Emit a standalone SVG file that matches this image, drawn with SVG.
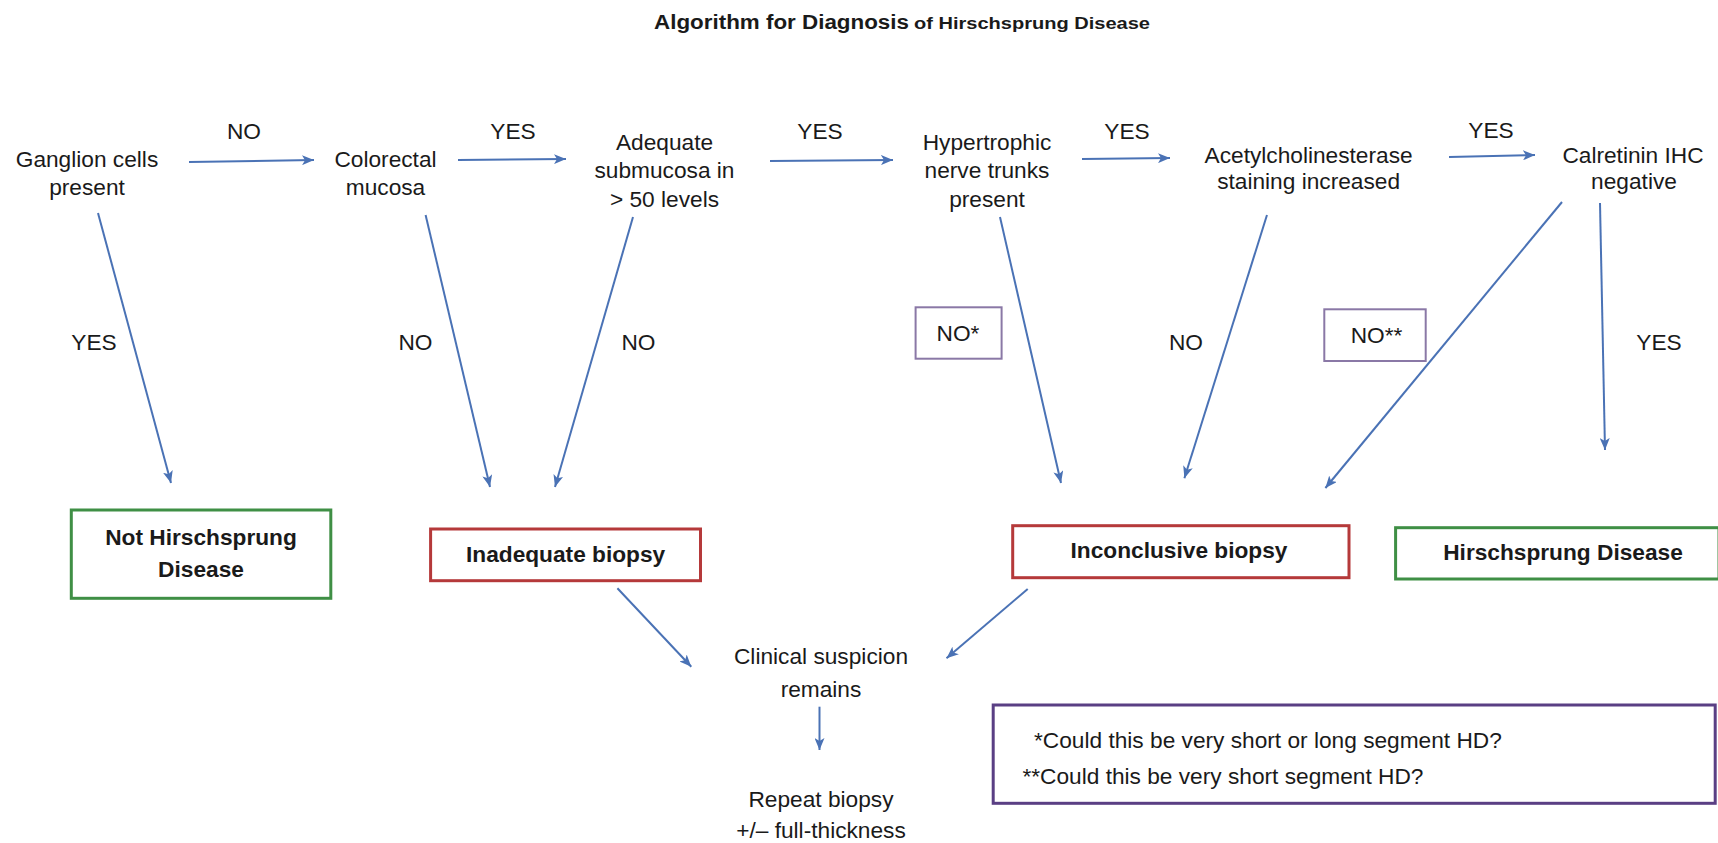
<svg xmlns="http://www.w3.org/2000/svg" width="1718" height="843" viewBox="0 0 1718 843">
<style>
text{font-family:"Liberation Sans",Arial,sans-serif;font-size:22.7px;fill:#1a1a1a;text-anchor:middle}
.b{font-weight:bold}
.c{stroke:#4a72b5;stroke-width:2;fill:none;marker-end:url(#ah)}
.g{fill:#fff;stroke:#3f8f45;stroke-width:3}
.r{fill:#fff;stroke:#b5393a;stroke-width:3}
.p{fill:#fff;stroke:#8a78a6;stroke-width:2}
.f{fill:#fff;stroke:#5a3f84;stroke-width:3}
</style>
<defs>
<marker id="ah" viewBox="0 0 12 10" refX="12" refY="5" markerWidth="12" markerHeight="10" markerUnits="userSpaceOnUse" orient="auto">
<path d="M0,0 L12,5 L0,10 L3,5 Z" fill="#4a72b5"/>
</marker>
</defs>
<rect width="1718" height="843" fill="#fff"/>
<g id="title">
<text class="b" x="654" y="29" style="text-anchor:start;font-size:20px" textLength="255" lengthAdjust="spacingAndGlyphs">Algorithm for Diagnosis</text>
<text class="b" x="914" y="29" style="text-anchor:start;font-size:17px" textLength="236" lengthAdjust="spacingAndGlyphs">of Hirschsprung Disease</text>
</g>
<g id="connectors">
<line class="c" x1="189" y1="162" x2="314" y2="160"/>
<line class="c" x1="458" y1="160" x2="566" y2="159"/>
<line class="c" x1="770" y1="161" x2="893" y2="160"/>
<line class="c" x1="1082" y1="159" x2="1170" y2="158"/>
<line class="c" x1="1449" y1="157" x2="1535" y2="155"/>
<line class="c" x1="98" y1="213" x2="171" y2="483"/>
<line class="c" x1="425.6" y1="215" x2="490" y2="487"/>
<line class="c" x1="633" y1="217" x2="555" y2="487"/>
<line class="c" x1="1000" y1="217" x2="1061" y2="483"/>
<line class="c" x1="1267" y1="215" x2="1184.4" y2="478.3"/>
<line class="c" x1="1562" y1="202" x2="1325.4" y2="488"/>
<line class="c" x1="1600" y1="203" x2="1605" y2="450"/>
<line class="c" x1="617.4" y1="588.3" x2="691.3" y2="666.7"/>
<line class="c" x1="1027.7" y1="589" x2="946.5" y2="658.3"/>
<line class="c" x1="819.5" y1="706.7" x2="819.5" y2="750"/>
</g>
<g id="edge-labels">
<text x="244" y="139">NO</text>
<text x="513" y="139">YES</text>
<text x="820" y="139">YES</text>
<text x="1127" y="139">YES</text>
<text x="1491" y="138">YES</text>
<text x="94" y="350">YES</text>
<text x="415.5" y="350">NO</text>
<text x="638.5" y="350">NO</text>
<text x="1186" y="350">NO</text>
<text x="1659" y="350">YES</text>
</g>
<g id="label-no1">
<rect class="p" x="915.6" y="307.3" width="86" height="51.4"/>
<text x="958" y="341">NO*</text>
</g>
<g id="label-no2">
<rect class="p" x="1324.3" y="309.3" width="101.4" height="51.7"/>
<text x="1376.5" y="343">NO**</text>
</g>
<g id="ganglion">
<text x="87" y="167">Ganglion cells</text>
<text x="87" y="195">present</text>
</g>
<g id="colorectal">
<text x="385.5" y="167">Colorectal</text>
<text x="385.5" y="195">mucosa</text>
</g>
<g id="adequate">
<text x="664.5" y="150">Adequate</text>
<text x="664.5" y="178.3">submucosa in</text>
<text x="664.5" y="206.7">&gt; 50 levels</text>
</g>
<g id="hypertrophic">
<text x="987" y="150">Hypertrophic</text>
<text x="987" y="178.3">nerve trunks</text>
<text x="987" y="206.7">present</text>
</g>
<g id="acetyl">
<text x="1308.6" y="163.3">Acetylcholinesterase</text>
<text x="1308.6" y="189.3">staining increased</text>
</g>
<g id="calretinin">
<text x="1633" y="163.3">Calretinin IHC</text>
<text x="1634" y="189.3">negative</text>
</g>
<g id="not-hd">
<rect class="g" x="71.3" y="510" width="259.5" height="88.3"/>
<text class="b" x="201" y="545">Not Hirschsprung</text>
<text class="b" x="201" y="576.7">Disease</text>
</g>
<g id="inadequate">
<rect class="r" x="430.6" y="529" width="269.9" height="51.7"/>
<text class="b" x="565.6" y="561.7">Inadequate biopsy</text>
</g>
<g id="inconclusive">
<rect class="r" x="1012.7" y="525.7" width="336.3" height="52"/>
<text class="b" x="1179" y="558.3">Inconclusive biopsy</text>
</g>
<g id="hd">
<rect class="g" x="1395.6" y="527.7" width="323.4" height="51.3"/>
<text class="b" x="1563" y="560">Hirschsprung Disease</text>
</g>
<g id="clinical">
<text x="821" y="664">Clinical suspicion</text>
<text x="821" y="696.7">remains</text>
</g>
<g id="repeat">
<text x="821" y="807.3">Repeat biopsy</text>
<text x="821" y="838.3">+/– full-thickness</text>
</g>
<g id="footnote">
<rect class="f" x="993.2" y="705" width="722" height="98.3"/>
<text x="1034" y="748" style="text-anchor:start">*Could this be very short or long segment HD?</text>
<text x="1022.4" y="784" style="text-anchor:start">**Could this be very short segment HD?</text>
</g>
</svg>
